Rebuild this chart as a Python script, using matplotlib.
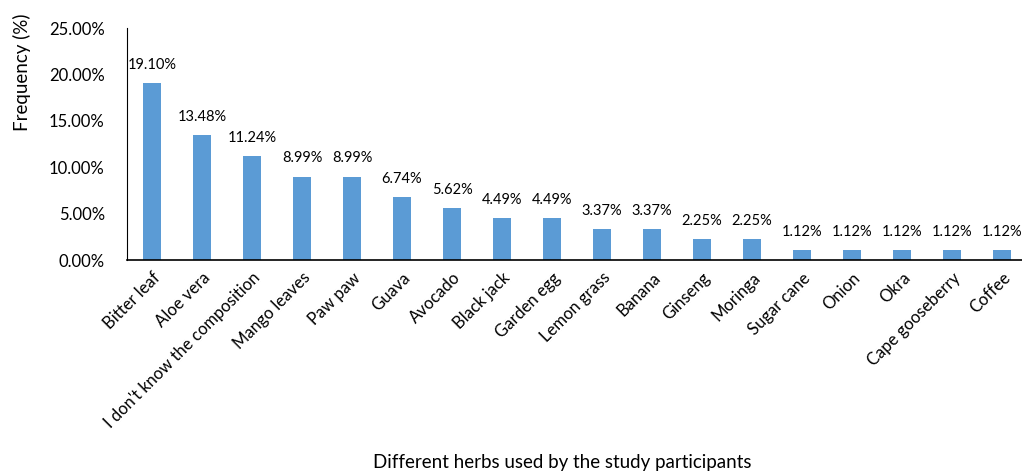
import matplotlib
matplotlib.use("Agg")
import matplotlib.pyplot as plt
import matplotlib.ticker as mticker

herbs = ["Bitter leaf", "Aloe vera", "I don't know the composition", "Mango leaves",
         "Paw paw", "Guava", "Avocado", "Black jack", "Garden egg", "Lemon grass",
         "Banana", "Ginseng", "Moringa", "Sugar cane", "Onion", "Okra",
         "Cape gooseberry", "Coffee"]
freq = [19.10, 13.48, 11.24, 8.99, 8.99, 6.74, 5.62, 4.49, 4.49, 3.37,
        3.37, 2.25, 2.25, 1.12, 1.12, 1.12, 1.12, 1.12]

plt.rcParams['font.family'] = ['Lato', 'DejaVu Sans']

fig = plt.figure(figsize=(10.22, 4.73), dpi=100)
ax = fig.add_axes([0.1243, 0.4503, 1.0 - 0.1243, 0.4905])

x = range(len(herbs))
bars = ax.bar(x, freq, width=0.36, color="#5B9BD5")

for xi, v in zip(x, freq):
    ax.annotate(f"{v:.2f}%", (xi, v), xytext=(0, 8), textcoords="offset points",
                ha="center", va="bottom", fontsize=10.5)

ax.set_ylim(0, 25)
ax.set_xlim(-0.5, 17.4)
ax.yaxis.set_major_locator(mticker.MultipleLocator(5))
ax.yaxis.set_major_formatter(mticker.FuncFormatter(lambda v, p: f"{v:.2f}%"))
ax.set_xticks(list(x))
ax.set_xticklabels(herbs, rotation=45, ha="right", rotation_mode="anchor")
ax.tick_params(axis="y", length=0, labelsize=12, pad=16)
ax.tick_params(axis="x", length=0, labelsize=12, pad=7)

for side in ("top", "right"):
    ax.spines[side].set_visible(False)
ax.spines["left"].set_color("#000000")
ax.spines["bottom"].set_color("#000000")
ax.spines["bottom"].set_linewidth(1.2)

ax.set_ylabel("Frequency (%)", fontsize=13.5)
ax.yaxis.set_label_coords(-0.107, 0.81)
fig.text(0.55, 0.01, "Different herbs used by the study participants", ha="center",
         fontsize=13.5)

fig.savefig("out.png", dpi=100)
